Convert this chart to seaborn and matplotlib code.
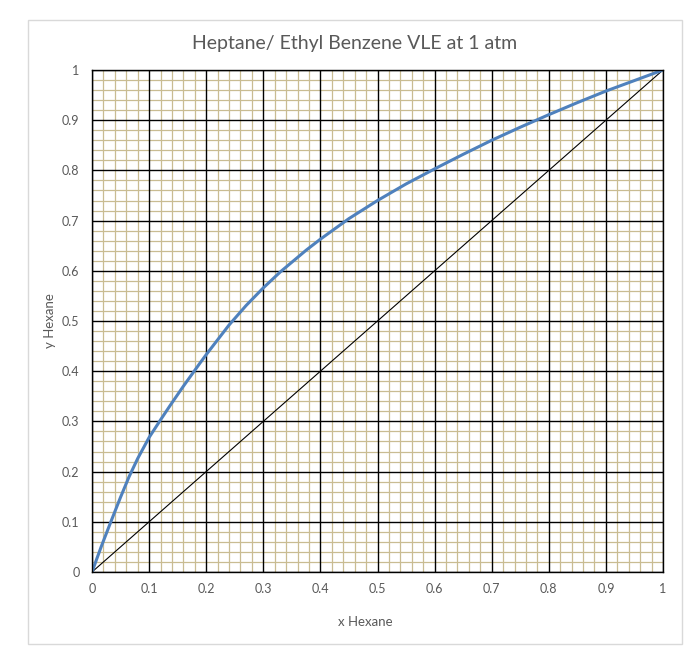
import numpy as np
import pandas as pd
import matplotlib
matplotlib.use('Agg')
import matplotlib.pyplot as plt
import seaborn as sns
from matplotlib.ticker import MultipleLocator
from matplotlib.patches import Rectangle

# equilibrium curve
x_liquid = [0, 0.016, 0.033, 0.05, 0.065, 0.08, 0.1, 0.12, 0.137, 0.16, 0.189,
            0.2, 0.24, 0.27, 0.3, 0.33, 0.375, 0.4, 0.45, 0.5, 0.55, 0.6, 0.65,
            0.7, 0.75, 0.8, 0.85, 0.9, 0.95, 1.0]
y_vapour = [0, 0.05, 0.10, 0.149, 0.19, 0.226, 0.268, 0.303, 0.332, 0.370, 0.416,
            0.433, 0.492, 0.531, 0.566, 0.598, 0.641, 0.663, 0.704, 0.740, 0.773,
            0.803, 0.832, 0.860, 0.886, 0.911, 0.935, 0.958, 0.979, 1.0]
# 45 degree line
diag_x = [0, 1]
diag_y = [0, 1]

curve_df = pd.DataFrame({'x': x_liquid, 'y': y_vapour})
diag_df = pd.DataFrame({'x': diag_x, 'y': diag_y})

sns.set_style('white')
plt.rcParams['font.family'] = ['Lato', 'DejaVu Sans']

fig = plt.figure(figsize=(6.96, 6.64), dpi=100)
pos = [92 / 696, 92 / 664, 571 / 696, 502 / 664]

# back axes: fine tan grid
ax_bg = fig.add_axes(pos, zorder=0)
ax_bg.set_xlim(0, 1)
ax_bg.set_ylim(0, 1)
ax_bg.xaxis.set_major_locator(MultipleLocator(0.1))
ax_bg.yaxis.set_major_locator(MultipleLocator(0.1))
ax_bg.xaxis.set_minor_locator(MultipleLocator(0.02))
ax_bg.yaxis.set_minor_locator(MultipleLocator(0.02))
ax_bg.grid(which='minor', color='#C9BC92', linewidth=0.9)
ax_bg.tick_params(which='both', length=0, labelbottom=False, labelleft=False)
for s in ax_bg.spines.values():
    s.set_visible(False)

# front axes: black major grid + data
ax = fig.add_axes(pos, zorder=1)
ax.patch.set_alpha(0)
sns.lineplot(data=diag_df, x='x', y='y', color='black', linewidth=0.8, ax=ax)
sns.lineplot(data=curve_df, x='x', y='y', color='#4F81BD', linewidth=2.2, ax=ax)
ax.set_xlim(0, 1)
ax.set_ylim(0, 1)
ax.xaxis.set_major_locator(MultipleLocator(0.1))
ax.yaxis.set_major_locator(MultipleLocator(0.1))
ax.xaxis.set_major_formatter(lambda v, p: f'{v:g}')
ax.yaxis.set_major_formatter(lambda v, p: f'{v:g}')
ax.grid(which='major', color='black', linewidth=1.0)
ax.tick_params(length=0, labelsize=9, labelcolor='#595959')
ax.tick_params(axis='x', pad=8)
ax.tick_params(axis='y', pad=9)
for s in ax.spines.values():
    s.set_color('black')
    s.set_linewidth(1.0)

ax.set_xlabel('x Hexane', fontsize=9.5, color='#595959')
ax.set_ylabel('y Hexane', fontsize=9.5, color='#595959')
ax.xaxis.set_label_coords(0.478, -0.087)
ax.yaxis.set_label_coords(-0.063, 0.5)

fig.text(355 / 696, 1 - 43 / 664, 'Heptane/ Ethyl Benzene VLE at 1 atm',
         ha='center', va='center', fontsize=14, color='#595959')

# chart area border
fig.patches.append(Rectangle((28 / 696, 1 - 644 / 664), 654 / 696, 624 / 664,
                             transform=fig.transFigure, fill=False,
                             edgecolor='#D9D9D9', linewidth=1))

fig.savefig('out.png', dpi=100)
